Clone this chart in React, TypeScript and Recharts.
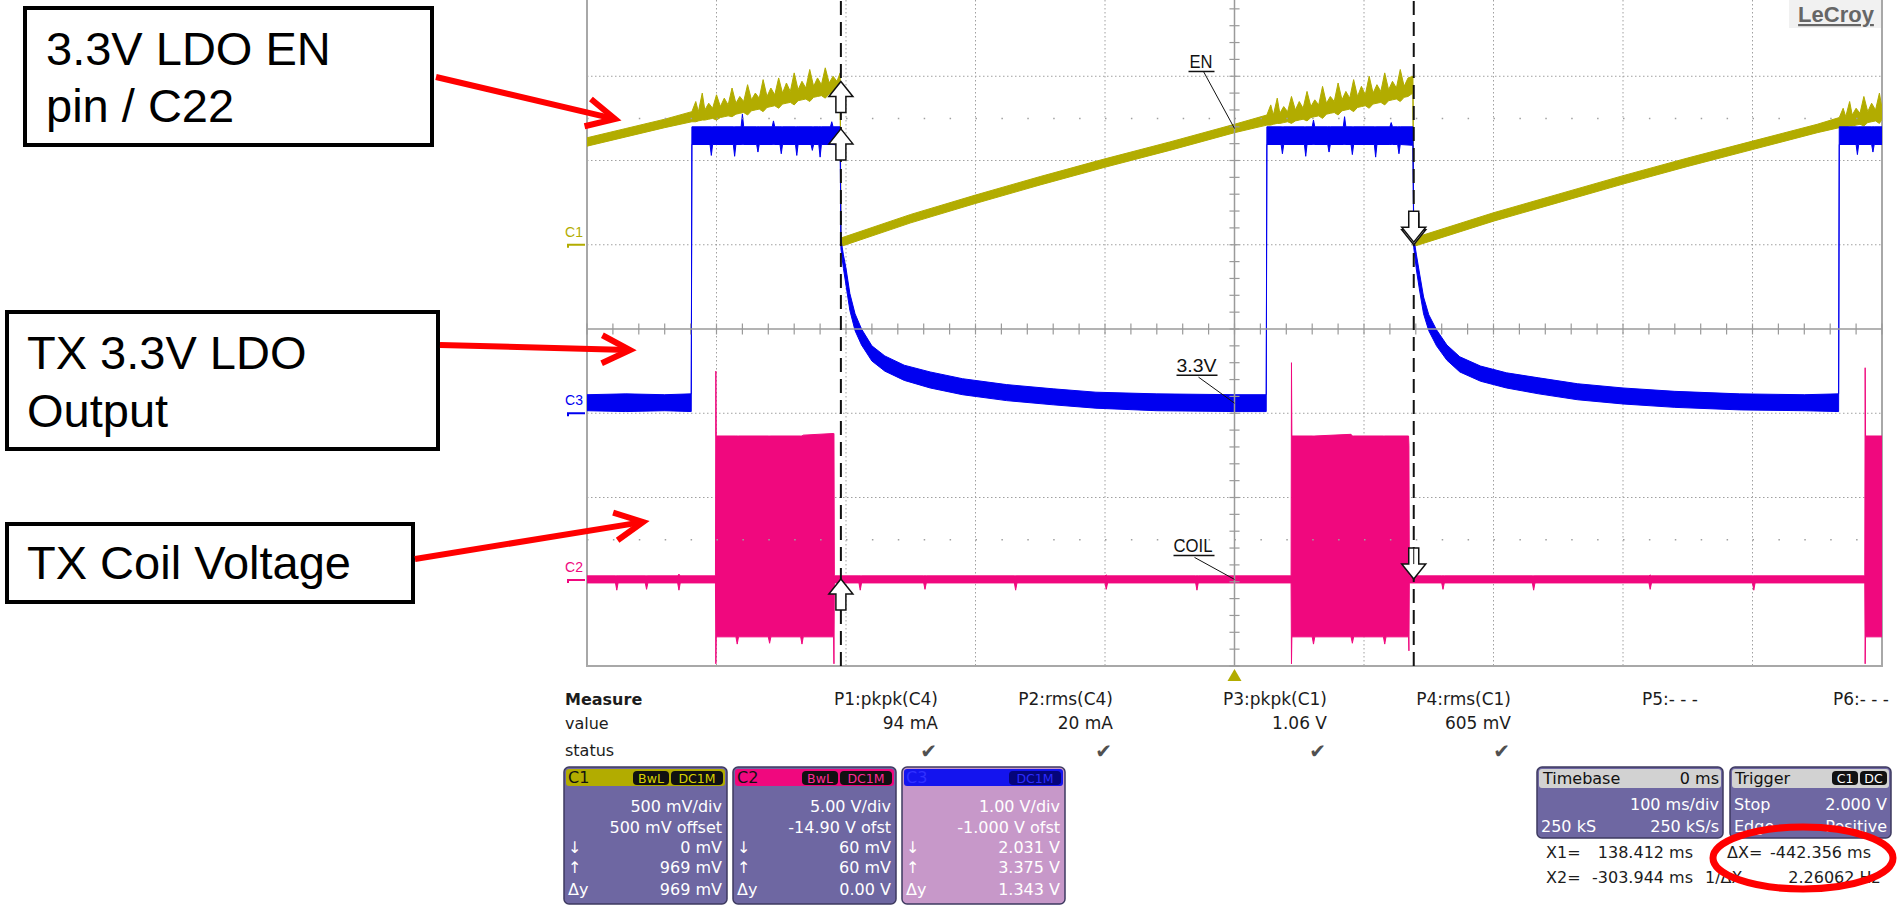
import React from 'react';
import {
  ComposedChart,
  Area,
  XAxis,
  YAxis,
  CartesianGrid,
  ReferenceLine,
  ReferenceDot,
  ReferenceArea,
} from 'recharts';

const YELLOW = '#b2ac00';
const PINK = '#f0087e';
const BLUE = '#0000f0';
const GRID = '#a0a0a0';
const SCOPE_FONT = '"DejaVu Sans", Verdana, sans-serif';
const SLIDE_FONT = '"Liberation Sans", Arial, sans-serif';

// channel settings from the scope's channel boxes
const CH1 = { scale: 0.5, offset: 0.5 }; // 500 mV/div, 500 mV offset
const CH2 = { scale: 5, offset: -14.9 }; // 5.00 V/div, -14.90 V ofst
const CH3 = { scale: 1, offset: -1 }; // 1.00 V/div, -1.000 V ofst

// 100 ms/div, 10 divisions; 8 vertical divisions
const X_TICKS = [-400, -300, -200, -100, 100, 200, 300, 400];
const Y_TICKS = [-3, -2, -1, 1, 2, 3];

const CURSOR_X1 = 138.412;
const CURSOR_X2 = -303.944;
const C1_CURSOR = { down: 0, up: 0.969 };
const C2_CURSOR = { down: 0.06, up: 0.06 };
const C3_CURSOR = { down: 2.031, up: 3.375 };

// [time ms, low V, high V] envelope of each trace
const EN_TRACE = [
  [-500, 0.585, 0.635], [-470, 0.64, 0.69], [-440, 0.695, 0.745], [-419, 0.73, 0.79],
  [-416, 0.73, 0.85], [-414, 0.735, 0.79], [-411, 0.74, 0.9], [-409, 0.74, 0.8],
  [-406, 0.745, 0.84], [-403, 0.75, 0.81], [-400, 0.74, 0.89], [-397, 0.755, 0.82],
  [-394, 0.76, 0.87], [-391, 0.765, 0.83], [-388, 0.76, 0.93], [-385, 0.775, 0.84],
  [-382, 0.78, 0.88], [-379, 0.785, 0.85], [-376, 0.77, 0.95], [-373, 0.795, 0.86],
  [-370, 0.8, 0.9], [-367, 0.805, 0.87], [-364, 0.79, 0.98], [-361, 0.815, 0.88],
  [-358, 0.82, 0.93], [-355, 0.825, 0.89], [-352, 0.81, 0.99], [-349, 0.835, 0.9],
  [-346, 0.84, 0.96], [-343, 0.845, 0.91], [-340, 0.83, 1.02], [-337, 0.855, 0.92],
  [-334, 0.86, 0.97], [-331, 0.865, 0.93], [-328, 0.85, 1.04], [-325, 0.875, 0.94],
  [-322, 0.88, 0.99], [-319, 0.885, 0.95], [-316, 0.87, 1.05], [-313, 0.895, 0.96],
  [-310, 0.9, 1.0], [-307, 0.905, 0.97], [-304.5, 0.9, 1.02],
  [-303.9, -0.01, 0.04], [-250, 0.13, 0.18], [-200, 0.245, 0.295], [-150, 0.355, 0.405],
  [-100, 0.46, 0.51], [-50, 0.56, 0.61], [0, 0.665, 0.715], [25, 0.71, 0.77],
  [28, 0.71, 0.83], [30, 0.715, 0.77], [33, 0.72, 0.87], [35, 0.72, 0.78],
  [38, 0.725, 0.82], [41, 0.73, 0.79], [44, 0.72, 0.88], [47, 0.735, 0.8],
  [50, 0.74, 0.85], [53, 0.745, 0.81], [56, 0.735, 0.91], [59, 0.755, 0.82],
  [62, 0.76, 0.86], [65, 0.765, 0.83], [68, 0.75, 0.94], [71, 0.775, 0.84],
  [74, 0.78, 0.88], [77, 0.785, 0.85], [80, 0.77, 0.96], [83, 0.795, 0.86],
  [86, 0.8, 0.91], [89, 0.805, 0.87], [92, 0.79, 0.98], [95, 0.815, 0.88],
  [98, 0.82, 0.94], [101, 0.825, 0.89], [104, 0.81, 1.0], [107, 0.835, 0.9],
  [110, 0.84, 0.95], [113, 0.845, 0.91], [116, 0.83, 1.02], [119, 0.855, 0.92],
  [122, 0.86, 0.97], [125, 0.865, 0.93], [128, 0.85, 1.04], [131, 0.875, 0.94],
  [134, 0.88, 0.99], [137.8, 0.9, 1.0],
  [138.4, -0.01, 0.04], [200, 0.14, 0.19], [250, 0.25, 0.3], [300, 0.36, 0.41],
  [350, 0.465, 0.515], [400, 0.565, 0.615], [450, 0.665, 0.715], [467, 0.695, 0.755],
  [470, 0.695, 0.81], [472, 0.7, 0.76], [475, 0.705, 0.85], [477, 0.705, 0.77],
  [480, 0.71, 0.81], [483, 0.715, 0.78], [486, 0.705, 0.88], [489, 0.725, 0.79],
  [492, 0.73, 0.84], [495, 0.735, 0.8], [498, 0.72, 0.9], [500, 0.745, 0.81],
];

const LDO_TRACE = [
  [-500, 0.03, 0.22], [-470, 0.02, 0.23], [-440, 0.03, 0.22], [-419.5, 0.02, 0.23],
  [-419, 3.19, 3.4], [-405, 3.19, 3.4], [-404, 3.06, 3.4], [-403, 3.19, 3.4],
  [-387, 3.19, 3.4], [-386, 3.05, 3.4], [-385, 3.19, 3.4], [-381, 3.19, 3.4],
  [-380, 3.19, 3.55], [-379, 3.19, 3.4], [-369, 3.19, 3.4], [-368, 3.1, 3.4],
  [-367, 3.19, 3.4], [-357, 3.19, 3.4], [-356, 3.19, 3.47], [-355, 3.19, 3.4],
  [-351, 3.19, 3.4], [-350, 3.08, 3.4], [-349, 3.19, 3.4], [-339, 3.19, 3.4],
  [-338, 3.06, 3.4], [-337, 3.19, 3.4], [-327, 3.19, 3.4], [-326, 3.12, 3.4],
  [-325, 3.19, 3.4], [-321, 3.19, 3.4], [-320, 3.04, 3.4], [-319, 3.19, 3.4],
  [-312, 3.19, 3.4], [-311, 3.19, 3.46], [-310, 3.19, 3.4], [-304.5, 3.18, 3.4],
  [-303.9, 1.95, 2.06], [-302, 1.72, 1.88], [-300, 1.52, 1.72], [-297, 1.22, 1.42],
  [-293, 0.98, 1.18], [-288, 0.81, 1.0], [-280, 0.62, 0.8], [-270, 0.5, 0.68],
  [-255, 0.39, 0.57], [-235, 0.3, 0.49], [-210, 0.22, 0.41], [-176, 0.15, 0.34],
  [-140, 0.1, 0.29], [-107, 0.06, 0.25], [-60, 0.03, 0.23], [0, 0.02, 0.22],
  [24.5, 0.02, 0.22],
  [25, 3.19, 3.4], [36, 3.19, 3.4], [37, 3.08, 3.4], [38, 3.19, 3.4],
  [54, 3.19, 3.4], [55, 3.05, 3.4], [56, 3.19, 3.4], [60, 3.19, 3.4],
  [61, 3.19, 3.48], [62, 3.19, 3.4], [72, 3.19, 3.4], [73, 3.1, 3.4],
  [74, 3.19, 3.4], [84, 3.19, 3.4], [85, 3.19, 3.52], [86, 3.19, 3.4],
  [90, 3.19, 3.4], [91, 3.07, 3.4], [92, 3.19, 3.4], [108, 3.19, 3.4],
  [109, 3.04, 3.4], [110, 3.19, 3.4], [120, 3.19, 3.4], [121, 3.19, 3.45],
  [122, 3.19, 3.4], [126, 3.19, 3.4], [127, 3.08, 3.4], [128, 3.19, 3.4],
  [137.8, 3.18, 3.4],
  [138.4, 1.97, 2.08], [140.5, 1.7, 1.88], [143, 1.45, 1.65], [146, 1.18, 1.38],
  [150, 0.98, 1.17], [156, 0.8, 0.99], [164, 0.63, 0.81], [174, 0.49, 0.67],
  [190, 0.38, 0.56], [210, 0.3, 0.48], [235, 0.23, 0.42], [265, 0.16, 0.35],
  [300, 0.11, 0.3], [340, 0.07, 0.26], [390, 0.04, 0.23], [440, 0.03, 0.22],
  [466.5, 0.02, 0.23],
  [467, 3.19, 3.4], [480, 3.19, 3.4], [481, 3.07, 3.4], [482, 3.19, 3.4],
  [492, 3.19, 3.4], [493, 3.1, 3.4], [494, 3.19, 3.4], [500, 3.19, 3.4],
];

const COIL_TRACE = [
  [-500, -0.17, 0.25], [-478, -0.17, 0.25], [-477, -0.6, 0.25], [-476, -0.17, 0.25],
  [-455, -0.17, 0.25], [-454, -0.55, 0.25], [-453, -0.17, 0.25],
  [-430, -0.17, 0.25], [-429, -0.6, 0.35], [-428, -0.17, 0.25],
  [-400.8, -0.17, 0.25],
  [-400.5, -4.97, 12.4], [-400.2, -3.37, 8.55], [-385, -3.37, 8.55], [-384, -3.8, 8.55],
  [-383, -3.37, 8.55], [-360, -3.37, 8.55], [-359, -3.75, 8.55], [-358, -3.37, 8.55],
  [-335, -3.37, 8.55], [-334, -3.8, 8.55], [-333, -3.37, 8.6], [-309.6, -3.37, 8.7],
  [-309.3, -4.97, 8.7], [-309, -0.17, 0.25],
  [-290, -0.17, 0.25], [-289, -0.6, 0.25], [-288, -0.17, 0.25],
  [-240, -0.17, 0.25], [-239, -0.55, 0.25], [-238, -0.17, 0.25],
  [-170, -0.17, 0.25], [-169, -0.6, 0.25], [-168, -0.17, 0.25],
  [-100, -0.17, 0.25], [-99, -0.55, 0.3], [-98, -0.17, 0.25],
  [-30, -0.17, 0.25], [-29, -0.6, 0.25], [-28, -0.17, 0.25],
  [43.7, -0.17, 0.25],
  [44, -4.97, 12.9], [44.3, -3.37, 8.55], [60, -3.37, 8.55], [61, -3.8, 8.55],
  [62, -3.37, 8.55], [90, -3.37, 8.65], [91, -3.75, 8.55], [92, -3.37, 8.55],
  [115, -3.37, 8.55], [116, -3.8, 8.55], [117, -3.37, 8.55], [134.4, -3.37, 8.55],
  [134.7, -4.2, 8.0], [135, -0.17, 0.25],
  [160, -0.17, 0.25], [161, -0.55, 0.25], [162, -0.17, 0.25],
  [230, -0.17, 0.25], [231, -0.6, 0.25], [232, -0.17, 0.25],
  [320, -0.17, 0.25], [321, -0.55, 0.3], [322, -0.17, 0.25],
  [400, -0.17, 0.25], [401, -0.6, 0.25], [402, -0.17, 0.25],
  [486.7, -0.17, 0.25],
  [487, -4.97, 12.6], [487.3, -3.37, 8.55], [500, -3.37, 8.55],
];

// measurement panel texts
const MEASURE_NAMES = ['P1:pkpk(C4)', 'P2:rms(C4)', 'P3:pkpk(C1)', 'P4:rms(C1)', 'P5:- - -', 'P6:- - -'];
const MEASURE_VALUES = ['94 mA', '20 mA', '1.06 V', '605 mV', '', ''];
const MEASURE_STATUS = [true, true, true, true, false, false];
const MEASURE_RIGHT = [938, 1113, 1327, 1511, 1698, 1889];

const C1_ROWS = ['500 mV/div', '500 mV offset', '0 mV', '969 mV', '969 mV'];
const C2_ROWS = ['5.00 V/div', '-14.90 V ofst', '60 mV', '60 mV', '0.00 V'];
const C3_ROWS = ['1.00 V/div', '-1.000 V ofst', '2.031 V', '3.375 V', '1.343 V'];

const toDiv = (v: number, ch: { scale: number; offset: number }) => (v + ch.offset) / ch.scale;
const rows = (trace: number[][], ch: { scale: number; offset: number }) =>
  trace.map(([t, lo, hi]) => ({ t, r: [toDiv(lo, ch), toDiv(hi, ch)] }));

const enRows = rows(EN_TRACE, CH1);
const ldoRows = rows(LDO_TRACE, CH3);
const coilRows = rows(COIL_TRACE, CH2);

const midAt = (trace: number[][], t: number) => {
  const p = trace.find((d) => d[0] === t)!;
  return (p[1] + p[2]) / 2;
};

// minor tick positions on the centre cross
const V_MINOR = Array.from({ length: 41 }, (_, i) => -4 + i * 0.2);
const H_MINOR = Array.from({ length: 51 }, (_, i) => -500 + i * 20);

const upArrow = (double = false) => (p: any) => {
  const { cx, cy } = p;
  return (
    <g>
      <polygon
        points={`${cx},${cy} ${cx + 12},${cy + 15} ${cx + 5},${cy + 15} ${cx + 5},${cy + 31} ${cx - 5},${cy + 31} ${cx - 5},${cy + 15} ${cx - 12},${cy + 15}`}
        fill="#fff"
        stroke="#111"
        strokeWidth={1.5}
      />
      {double && <line x1={cx} y1={cy + 15} x2={cx} y2={cy + 31} stroke="#111" />}
    </g>
  );
};

const downArrow = (double = false) => (p: any) => {
  const { cx, cy } = p;
  return (
    <g>
      <polygon
        points={`${cx},${cy} ${cx + 12},${cy - 15} ${cx + 5},${cy - 15} ${cx + 5},${cy - 31} ${cx - 5},${cy - 31} ${cx - 5},${cy - 15} ${cx - 12},${cy - 15}`}
        fill="#fff"
        stroke="#111"
        strokeWidth={1.5}
      />
      {double && <line x1={cx} y1={cy - 31} x2={cx} y2={cy - 15} stroke="#111" />}
    </g>
  );
};

const channelTag = (label: string, color: string) => (p: any) => {
  const { cx, cy } = p;
  return (
    <g>
      <text x={cx - 22} y={cy - 8} fill={color} fontSize={14} fontFamily={SLIDE_FONT} textLength={18}>
        {label}
      </text>
      <path d={`M${cx - 19} ${cy + 3} V${cy} H${cx - 2}`} stroke={color} strokeWidth={2} fill="none" />
    </g>
  );
};

const traceLabel = (label: string, tx: number, ty: number, ul0: number, ul1: number, lx: number, ly: number, len?: number) => (p: any) => {
  const { cx, cy } = p;
  return (
    <g>
      <text
        x={cx + tx}
        y={cy + ty}
        textAnchor="end"
        fontSize={19}
        fontFamily={SLIDE_FONT}
        fill="#111"
        textLength={len}
        lengthAdjust="spacingAndGlyphs"
      >
        {label}
      </text>
      <line x1={cx + ul0} y1={cy + ty + 3} x2={cx + ul1} y2={cy + ty + 3} stroke="#111" strokeWidth={1.5} />
      <line x1={cx + lx} y1={cy + ly} x2={cx} y2={cy} stroke="#111" strokeWidth={1} />
    </g>
  );
};

const triggerMark = (p: any) => {
  const { cx, cy } = p;
  return <polygon points={`${cx},${cy + 3} ${cx + 7},${cy + 15} ${cx - 7},${cy + 15}`} fill={YELLOW} />;
};

const arrowHead = (x1: number, y1: number, x2: number, y2: number, len = 28, half = 14) => {
  const dx = x2 - x1;
  const dy = y2 - y1;
  const l = Math.hypot(dx, dy);
  const ux = dx / l;
  const uy = dy / l;
  const bx = x2 - ux * len;
  const by = y2 - uy * len;
  return `M${bx - uy * half} ${by + ux * half} L${x2} ${y2} L${bx + uy * half} ${by - ux * half}`;
};

function RedArrow({ x1, y1, x2, y2 }: { x1: number; y1: number; x2: number; y2: number }) {
  return (
    <g stroke="#ff0000" strokeWidth={6} fill="none">
      <line x1={x1} y1={y1} x2={x2 - (x2 - x1) * 0.01} y2={y2 - (y2 - y1) * 0.01} />
      <path d={arrowHead(x1, y1, x2, y2)} strokeLinejoin="miter" />
    </g>
  );
}

function Badge({ x, w, y, label, fill, color }: any) {
  return (
    <g>
      <rect x={x} y={y} width={w} height={14} rx={4} fill={fill} />
      <text x={x + w / 2} y={y + 11.5} textAnchor="middle" fontSize={12.5} fontFamily={SCOPE_FONT} fill={color}>
        {label}
      </text>
    </g>
  );
}

function ChannelBox({ x, w, title, head, body, titleColor, badges, lines }: any) {
  const top = 767;
  const h = 137;
  const baselines = [812, 833, 853, 873, 895];
  const left = ['', '', '\u2193', '\u2191', '\u0394y'];
  return (
    <g fontFamily={SCOPE_FONT}>
      <rect x={x} y={top} width={w} height={h} rx={5} fill={body} stroke="#3e3a60" strokeWidth={1.5} />
      <rect x={x + 2} y={top + 2} width={w - 4} height={17} rx={3} fill={head} />
      <text x={x + 4} y={top + 16} fontSize={16} fill={titleColor}>
        {title}
      </text>
      {badges.map((b: any, i: number) => (
        <Badge key={i} x={x + w - b.r} w={b.w} y={top + 4} label={b.label} fill={b.fill} color={b.color} />
      ))}
      {lines.map((s: string, i: number) => (
        <g key={i}>
          {left[i] && (
            <text x={x + 4} y={baselines[i]} fontSize={16} fill="#fff">
              {left[i]}
            </text>
          )}
          <text x={x + w - 5} y={baselines[i]} fontSize={16} fill="#fff" textAnchor="end">
            {s}
          </text>
        </g>
      ))}
    </g>
  );
}

function Overlay() {
  const txt = { fontFamily: SCOPE_FONT, fontSize: 16, fill: '#1c1c1c' };
  const col = { fontFamily: SCOPE_FONT, fontSize: 17, fill: '#1c1c1c' };
  return (
    <svg width={1902} height={911} style={{ position: 'absolute', left: 0, top: 0, pointerEvents: 'none' }}>
      {/* LeCroy logo */}
      <rect x={1789} y={0} width={92} height={28} fill="#f1f1f1" />
      <text
        x={1836}
        y={22}
        textAnchor="middle"
        fontFamily={SLIDE_FONT}
        fontWeight="bold"
        fontSize={22}
        fill="#666"
        textDecoration="underline"
      >
        LeCroy
      </text>

      {/* slide annotation boxes */}
      <g fontFamily={SLIDE_FONT} fontSize={47} fill="#000">
        <rect x={25} y={8} width={407} height={137} fill="#fff" stroke="#000" strokeWidth={4} />
        <text x={46} y={65}>3.3V LDO EN</text>
        <text x={46} y={122}>pin / C22</text>
        <rect x={7} y={312} width={431} height={137} fill="#fff" stroke="#000" strokeWidth={4} />
        <text x={27} y={369}>TX 3.3V LDO</text>
        <text x={27} y={427}>Output</text>
        <rect x={7} y={524} width={406} height={78} fill="#fff" stroke="#000" strokeWidth={4} />
        <text x={27} y={579}>TX Coil Voltage</text>
      </g>
      <RedArrow x1={436} y1={77} x2={615} y2={119} />
      <RedArrow x1={440} y1={345} x2={630} y2={350} />
      <RedArrow x1={415} y1={559} x2={643} y2={522} />

      {/* measurement table */}
      <text x={565} y={705} {...txt} fontWeight="bold">Measure</text>
      <text x={565} y={729} {...txt}>value</text>
      <text x={565} y={756} {...txt}>status</text>
      {MEASURE_NAMES.map((m, i) => (
        <g key={m}>
          <text x={MEASURE_RIGHT[i]} y={705} textAnchor="end" {...col}>{m}</text>
          <text x={MEASURE_RIGHT[i]} y={729} textAnchor="end" {...col}>{MEASURE_VALUES[i]}</text>
          {MEASURE_STATUS[i] && (
            <text x={MEASURE_RIGHT[i] - 1} y={758} textAnchor="end" fontFamily={SCOPE_FONT} fontSize={20} fill="#505050">
              {'\u2714'}
            </text>
          )}
        </g>
      ))}

      <ChannelBox
        x={564}
        w={163}
        title="C1"
        head={YELLOW}
        body="#6e67a2"
        titleColor="#111"
        badges={[
          { label: 'BwL', r: 94, w: 36, fill: '#111', color: '#d8d200' },
          { label: 'DC1M', r: 56, w: 52, fill: '#111', color: '#d8d200' },
        ]}
        lines={C1_ROWS}
      />
      <ChannelBox
        x={733}
        w={163}
        title="C2"
        head={PINK}
        body="#6e67a2"
        titleColor="#111"
        badges={[
          { label: 'BwL', r: 94, w: 36, fill: '#111', color: '#ff2b95' },
          { label: 'DC1M', r: 56, w: 52, fill: '#111', color: '#ff2b95' },
        ]}
        lines={C2_ROWS}
      />
      <ChannelBox
        x={902}
        w={163}
        title="C3"
        head="#1414ee"
        body="#c798c9"
        titleColor="#3030ff"
        badges={[{ label: 'DC1M', r: 56, w: 52, fill: '#05057a', color: '#2b2bff' }]}
        lines={C3_ROWS}
      />

      {/* timebase and trigger */}
      <g fontFamily={SCOPE_FONT} fontSize={16}>
        <rect x={1537} y={767} width={186} height={71} rx={5} fill="#6e67a2" stroke="#3e3a60" strokeWidth={1.5} />
        <rect x={1539} y={769} width={182} height={19} rx={3} fill="#d2d2d2" />
        <text x={1543} y={784} fill="#111">Timebase</text>
        <text x={1719} y={784} fill="#111" textAnchor="end">0 ms</text>
        <text x={1719} y={810} fill="#fff" textAnchor="end">100 ms/div</text>
        <text x={1541} y={832} fill="#fff">250 kS</text>
        <text x={1719} y={832} fill="#fff" textAnchor="end">250 kS/s</text>

        <rect x={1730} y={767} width={161} height={71} rx={5} fill="#6e67a2" stroke="#3e3a60" strokeWidth={1.5} />
        <rect x={1732} y={769} width={157} height={19} rx={3} fill="#d2d2d2" />
        <text x={1735} y={784} fill="#111">Trigger</text>
        <Badge x={1832} w={26} y={771} label="C1" fill="#111" color="#fff" />
        <Badge x={1860} w={27} y={771} label="DC" fill="#111" color="#fff" />
        <text x={1734} y={810} fill="#fff">Stop</text>
        <text x={1887} y={810} fill="#fff" textAnchor="end">2.000 V</text>
        <text x={1734} y={832} fill="#fff">Edge</text>
        <text x={1887} y={832} fill="#fff" textAnchor="end">Positive</text>

        <text x={1546} y={858} fill="#1c1c1c">X1=</text>
        <text x={1693} y={858} fill="#1c1c1c" textAnchor="end">138.412 ms</text>
        <text x={1546} y={883} fill="#1c1c1c">X2=</text>
        <text x={1693} y={883} fill="#1c1c1c" textAnchor="end">-303.944 ms</text>
        <text x={1727} y={858} fill="#1c1c1c">{'\u0394X='}</text>
        <text x={1871} y={858} fill="#1c1c1c" textAnchor="end">-442.356 ms</text>
        <text x={1705} y={883} fill="#1c1c1c">{'1/\u0394X'}</text>
        <text x={1880} y={883} fill="#1c1c1c" textAnchor="end">2.26062 Hz</text>
      </g>
      <ellipse cx={1803} cy={858} rx={90} ry={31} fill="none" stroke="#ff0000" strokeWidth={7} />
    </svg>
  );
}

export default function App() {
  return (
    <div style={{ position: 'fixed', left: 0, top: 0, width: 1902, height: 911, background: '#fff', overflow: 'hidden' }}>
      <div style={{ position: 'absolute', left: 0, top: -8 }}>
        <ComposedChart width={1902} height={700} margin={{ top: 0, right: 20, bottom: 26, left: 587 }}>
          <XAxis dataKey="t" type="number" domain={[-500, 500]} ticks={X_TICKS} allowDataOverflow hide />
          <YAxis type="number" domain={[-4, 4]} ticks={Y_TICKS} allowDataOverflow hide />
          <CartesianGrid stroke={GRID} strokeDasharray="1.5 2.5" strokeWidth={1} />
          <ReferenceLine y={2.5} stroke={GRID} strokeDasharray="1.5 24.4" strokeWidth={1.5} />
          <ReferenceLine y={-2.5} stroke={GRID} strokeDasharray="1.5 24.4" strokeWidth={1.5} />
          <ReferenceLine x={0} stroke="#9a9a9a" strokeWidth={1.5} />
          <ReferenceLine y={0} stroke="#9a9a9a" strokeWidth={1.5} />
          {V_MINOR.map((v) => (
            <ReferenceLine key={`v${v}`} segment={[{ x: -3.9, y: v }, { x: 3.9, y: v }]} stroke="#9a9a9a" strokeWidth={1.2} />
          ))}
          {H_MINOR.map((t) => (
            <ReferenceLine key={`h${t}`} segment={[{ x: t, y: -0.065 }, { x: t, y: 0.065 }]} stroke="#9a9a9a" strokeWidth={1.2} />
          ))}
          <ReferenceArea x1={-500} x2={500} y1={-4} y2={4} fill="none" fillOpacity={0} stroke="#a8a8a8" strokeWidth={2} ifOverflow="visible" />

          <Area data={enRows} dataKey="r" type="linear" stroke={YELLOW} strokeWidth={1} fill={YELLOW} fillOpacity={1} dot={false} activeDot={false} isAnimationActive={false} />
          <Area data={coilRows} dataKey="r" type="linear" stroke={PINK} strokeWidth={1} fill={PINK} fillOpacity={1} dot={false} activeDot={false} isAnimationActive={false} />
          <Area data={ldoRows} dataKey="r" type="linear" stroke={BLUE} strokeWidth={1} fill={BLUE} fillOpacity={1} dot={false} activeDot={false} isAnimationActive={false} />

          <ReferenceLine x={CURSOR_X2} stroke="#111" strokeWidth={2} strokeDasharray="14 7" />
          <ReferenceLine x={CURSOR_X1} stroke="#111" strokeWidth={2} strokeDasharray="14 7" />

          <ReferenceDot x={CURSOR_X2} y={toDiv(C1_CURSOR.up, CH1)} ifOverflow="visible" shape={upArrow()} />
          <ReferenceDot x={CURSOR_X2} y={toDiv(C3_CURSOR.up, CH3)} ifOverflow="visible" shape={upArrow()} />
          <ReferenceDot x={CURSOR_X2} y={toDiv(C2_CURSOR.up, CH2)} ifOverflow="visible" shape={upArrow()} />
          <ReferenceDot x={CURSOR_X1} y={toDiv(C1_CURSOR.down, CH1)} ifOverflow="visible" shape={downArrow()} />
          <ReferenceDot x={CURSOR_X1} y={toDiv(C3_CURSOR.down, CH3)} ifOverflow="visible" shape={downArrow()} />
          <ReferenceDot x={CURSOR_X1} y={toDiv(C2_CURSOR.down, CH2)} ifOverflow="visible" shape={downArrow(true)} />

          <ReferenceDot x={-500} y={toDiv(0, CH1)} ifOverflow="visible" shape={channelTag('C1', YELLOW)} />
          <ReferenceDot x={-500} y={toDiv(0, CH3)} ifOverflow="visible" shape={channelTag('C3', BLUE)} />
          <ReferenceDot x={-500} y={toDiv(0, CH2)} ifOverflow="visible" shape={channelTag('C2', PINK)} />

          <ReferenceDot x={0} y={toDiv(midAt(EN_TRACE, 0), CH1)} ifOverflow="visible" shape={traceLabel('EN', -22, -60, -46, -20, -31, -57, 23)} />
          <ReferenceDot x={0} y={toDiv(midAt(LDO_TRACE, 0), CH3)} ifOverflow="visible" shape={traceLabel('3.3V', -18, -31, -58, -17, -36, -26, 40)} />
          <ReferenceDot x={0} y={toDiv(midAt(COIL_TRACE, -500), CH2)} ifOverflow="visible" shape={traceLabel('COIL', -22, -27, -61, -20, -40, -22, 39)} />

          <ReferenceDot x={0} y={-4} ifOverflow="visible" shape={triggerMark} />
        </ComposedChart>
      </div>
      <Overlay />
    </div>
  );
}
